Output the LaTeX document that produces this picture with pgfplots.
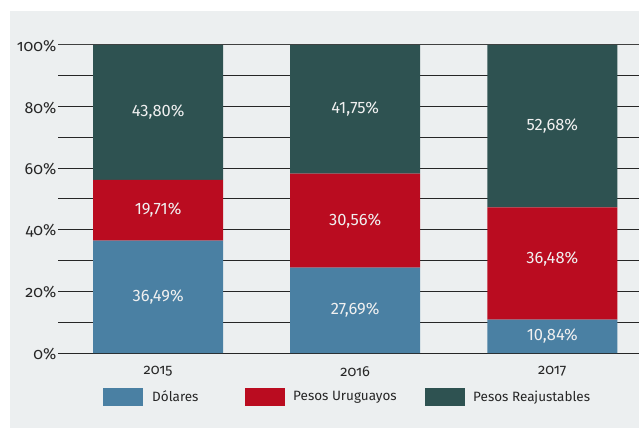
\documentclass[border=0pt]{standalone}
\usepackage{pgfplots}
\pgfplotsset{compat=1.18}
\usepackage{fontspec}
\setmainfont{Fira Sans}
\newfontfamily\osf{Fira Sans}[Numbers=OldStyle]
\definecolor{bgc}{RGB}{236,239,240}
\definecolor{cblue}{RGB}{74,128,163}
\definecolor{cred}{RGB}{186,12,32}
\definecolor{cgreen}{RGB}{46,82,81}
\pgfplotsset{
  legsq/.style={legend image code/.code={\fill[##1] (0pt,-9pt) rectangle (40pt,9pt);}},
  common/.style={at={(58pt,75pt)}, anchor=south west, scale only axis,
    width=581pt, height=308pt, xmin=-0.508, xmax=2.44, ymin=0, ymax=100}
}
\begin{document}
\begin{tikzpicture}[x=1pt,y=1pt]
\path[use as bounding box] (0,0) rectangle (639,428);
\fill[white] (0,0) rectangle (639,428);
\fill[bgc] (10,0) rectangle (639,417);
\begin{axis}[common,
  ybar stacked, bar width=130pt,
  xtick={0,1,2}, xticklabels={2015,2016,2017},
  ytick={0,20,...,100}, minor ytick={10,30,...,90},
  /pgf/number format/assume math mode=true,
  yticklabel={\pgfmathprintnumber{\tick}\%},
  yticklabel style={font=\osf\fontsize{16}{16}\selectfont, text=black!85, inner xsep=1.5pt, yshift=-1pt},
  xticklabel style={font=\osf\fontsize{14.5}{14.5}\selectfont, text=black!85, yshift=-10pt},
  ymajorgrids, yminorgrids,
  major grid style={black!85, line width=1pt},
  minor grid style={black!85, line width=1pt},
  major tick length=0pt, minor tick length=0pt,
  tick style={draw=none},
  axis line style={draw=none},
  legend style={at={(0.0723,-0.143)}, anchor=west, draw=none, fill=none,
    legend columns=3, column sep=0pt,
    nodes={inner xsep=0pt, inner ysep=2pt, font=\fontsize{13.5}{13.5}\selectfont, text=black!85}},
  legend cell align=left,
]
\addplot[fill=cblue, draw=none, legsq] coordinates {(0,36.49) (1,27.69) (2,10.84)};
\addplot[fill=cred, draw=none, legsq] coordinates {(0,19.71) (1,30.56) (2,36.48)};
\addplot[fill=cgreen, draw=none, legsq] coordinates {(0,43.80) (1,41.75) (2,52.68)};
\addlegendentry{\hspace{9pt}\makebox[93pt][l]{Dólares}}
\addlegendentry{\hspace{8pt}\makebox[132pt][l]{Pesos Uruguayos}}
\addlegendentry{\hspace{8pt}Pesos Reajustables}
\draw[black!85, line width=1pt] (rel axis cs:0,0) -- (rel axis cs:1,0);
\draw[black!75, line width=1pt] (rel axis cs:0,1) -- (rel axis cs:1,1);
\end{axis}
\begin{axis}[common, hide axis]
\addplot[draw=none, mark=none, nodes near coords, point meta=explicit symbolic,
  nodes near coords align=center,
  every node near coord/.append style={anchor=center, text=white!94!black, font=\fontsize{16.5}{16.5}\selectfont}]
  coordinates {
  (0,18.245) [36,49\%]
  (0,46.345) [19,71\%]
  (0,78.10) [43,80\%]
  (1,13.845) [27,69\%]
  (1,42.97) [30,56\%]
  (1,79.125) [41,75\%]
  (2,5.42) [10,84\%]
  (2,30.6) [36,48\%]
  (2,73.66) [52,68\%]
  };
\end{axis}
\end{tikzpicture}
\end{document}
